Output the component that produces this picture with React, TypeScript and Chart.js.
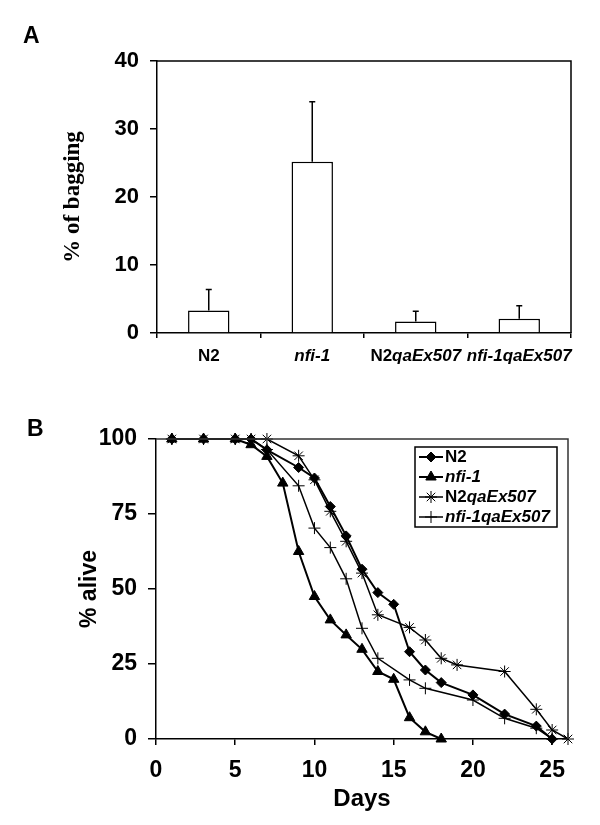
import React, { useEffect, useRef } from 'react';
import { Chart, registerables } from 'chart.js';
import { drawPoint } from 'chart.js/helpers';
Chart.register(...registerables);

// ---------- Panel A data ----------
const strains = ['N2', 'nfi-1', 'N2qaEx507', 'nfi-1qaEx507'];
const baggingPct = [3.3, 25.2, 1.7, 2.1];
const baggingErr = [3.1, 8.8, 1.5, 1.9];
const baggingTickStep = 10;
const baggingMax = 40;

// ---------- Panel B data ----------
const n2Days = [1, 3, 5, 6, 7, 9, 10, 11, 12, 13, 14, 15, 16, 17, 18, 20, 22, 24, 25];
const n2Alive = [100, 100, 100, 100, 96.4, 90.5, 87, 77.5, 67.7, 56.6, 48.8, 44.9, 29.1, 23.0, 18.8, 14.7, 8.3, 4.3, 0];
const nfi1Days = [1, 3, 5, 6, 7, 8, 9, 10, 11, 12, 13, 14, 15, 16, 17, 18];
const nfi1Alive = [100, 100, 100, 98.1, 94.2, 85.3, 62.5, 47.5, 39.7, 34.7, 29.9, 22.5, 19.9, 7.1, 2.4, 0];
const n2ExDays = [1, 3, 5, 6, 7, 9, 10, 11, 12, 13, 14, 16, 17, 18, 19, 22, 24, 25, 26];
const n2ExAlive = [100, 100, 100, 100, 100, 94.4, 86.4, 75.9, 65.9, 55.3, 41.4, 37.2, 33.0, 26.9, 24.7, 22.5, 9.9, 3.0, 0];
const nfi1ExDays = [1, 3, 5, 6, 7, 9, 10, 11, 12, 13, 14, 16, 17, 20, 22, 24, 25];
const nfi1ExAlive = [100, 100, 100, 100, 96.5, 84.4, 70.3, 63.8, 53.4, 36.9, 26.9, 19.7, 16.9, 13.0, 6.9, 3.6, 0];
const seriesLabels = ['N2', 'nfi-1', 'N2qaEx507', 'nfi-1qaEx507'];
const daysMax = 26;
const daysStep = 5;
const aliveStep = 25;

const SANS = '"Liberation Sans", Arial, sans-serif';
const SERIF = '"Liberation Serif", "Times New Roman", serif';

function segments(label: string) {
  return label
    .split(/(nfi-1|qaEx507)/)
    .filter(Boolean)
    .map((t) => ({ t, it: /^(nfi-1|qaEx507)$/.test(t) }));
}

function drawMixed(ctx: CanvasRenderingContext2D, label: string, x: number, cy: number, size: number, align: 'center' | 'left') {
  const segs = segments(label);
  const fontOf = (it: boolean) => `${it ? 'italic ' : ''}bold ${size}px ${SANS}`;
  let total = 0;
  segs.forEach((s) => {
    ctx.font = fontOf(s.it);
    total += ctx.measureText(s.t).width;
  });
  let cx = align === 'center' ? x - total / 2 : x;
  ctx.textBaseline = 'middle';
  ctx.textAlign = 'left';
  ctx.fillStyle = '#000';
  segs.forEach((s) => {
    ctx.font = fontOf(s.it);
    ctx.fillText(s.t, cx, cy);
    cx += ctx.measureText(s.t).width;
  });
}

const barExtras = {
  id: 'barExtras',
  afterDatasetsDraw(chart: any) {
    const { ctx, chartArea: a, scales } = chart;
    const meta = chart.getDatasetMeta(0);
    ctx.save();
    ctx.strokeStyle = '#000';
    ctx.lineWidth = 1.5;
    meta.data.forEach((bar: any, i: number) => {
      const top = scales.y.getPixelForValue(baggingPct[i] + baggingErr[i]);
      ctx.beginPath();
      ctx.moveTo(bar.x, bar.y);
      ctx.lineTo(bar.x, top);
      ctx.moveTo(bar.x - 3, top);
      ctx.lineTo(bar.x + 3, top);
      ctx.stroke();
    });
    ctx.beginPath();
    ctx.moveTo(a.left, a.top);
    ctx.lineTo(a.right, a.top);
    ctx.lineTo(a.right, a.bottom);
    ctx.stroke();
    strains.forEach((s, i) => {
      drawMixed(ctx, s, scales.x.getPixelForValue(i), a.bottom + 23, 17, 'center');
    });
    ctx.font = `bold 23px ${SANS}`;
    ctx.textBaseline = 'alphabetic';
    ctx.textAlign = 'left';
    ctx.fillStyle = '#000';
    ctx.fillText('A', 23, 43);
    ctx.restore();
  },
};

const lineExtras = {
  id: 'lineExtras',
  afterDraw(chart: any) {
    const { ctx, chartArea: a } = chart;
    ctx.save();
    ctx.strokeStyle = '#333';
    ctx.lineWidth = 1.5;
    ctx.beginPath();
    ctx.moveTo(a.left, a.top);
    ctx.lineTo(a.right, a.top);
    ctx.lineTo(a.right, a.bottom);
    ctx.stroke();
    // legend box
    const bx = a.right - 153;
    const by = a.top + 8;
    ctx.strokeStyle = '#000';
    ctx.lineWidth = 1.5;
    ctx.strokeRect(bx, by, 142, 80);
    chart.data.datasets.forEach((ds: any, i: number) => {
      const cy = by + 10 + 20 * i;
      ctx.strokeStyle = '#000';
      ctx.fillStyle = '#000';
      ctx.lineWidth = ds.borderWidth;
      ctx.beginPath();
      ctx.moveTo(bx + 4, cy);
      ctx.lineTo(bx + 28, cy);
      ctx.stroke();
      ctx.lineWidth = ds.pointBorderWidth;
      drawPoint(ctx, { pointStyle: ds.pointStyle, radius: ds.pointRadius, rotation: 0, borderWidth: ds.pointBorderWidth }, bx + 16, cy);
      drawMixed(ctx, ds.label, bx + 30, cy, 17, 'left');
    });
    ctx.font = `bold 23px ${SANS}`;
    ctx.textBaseline = 'alphabetic';
    ctx.textAlign = 'left';
    ctx.fillStyle = '#000';
    ctx.fillText('B', 27, 36);
    ctx.restore();
  },
};

function toPoints(xs: number[], ys: number[]) {
  return xs.map((x, i) => ({ x, y: ys[i] }));
}

export default function App() {
  const refA = useRef<HTMLCanvasElement>(null);
  const refB = useRef<HTMLCanvasElement>(null);

  useEffect(() => {
    const axisCommon = {
      border: { display: true, color: '#000', width: 1.5 },
    };
    const chartA = new Chart(refA.current!, {
      type: 'bar',
      data: {
        labels: strains,
        datasets: [
          {
            data: baggingPct,
            backgroundColor: '#fff',
            borderColor: '#000',
            borderWidth: 1.5,
            barPercentage: 0.4,
            categoryPercentage: 1,
          },
        ],
      },
      options: {
        responsive: false,
        animation: false,
        devicePixelRatio: 1,
        layout: { padding: { left: 0, right: 29, top: 61, bottom: 0 } },
        plugins: { legend: { display: false }, tooltip: { enabled: false } },
        scales: {
          x: {
            ...axisCommon,
            grid: { display: true, drawOnChartArea: false, tickLength: 5, color: '#000', lineWidth: 1.5, offset: true },
            ticks: { display: false },
            afterFit: (s: any) => {
              s.height = 67;
            },
          },
          y: {
            ...axisCommon,
            min: 0,
            max: baggingMax,
            grid: { drawOnChartArea: false, tickLength: 7, color: '#000', lineWidth: 1.5 },
            ticks: { stepSize: baggingTickStep, padding: 11, color: '#000', font: { family: SANS, size: 22, weight: 'bold' } },
            title: {
              display: true,
              text: '% of bagging',
              color: '#000',
              font: { family: SERIF, size: 23, weight: 'bold' },
              padding: { top: 59, bottom: 0 },
            },
            afterFit: (s: any) => {
              s.width = 157;
            },
          },
        },
      } as any,
      plugins: [barExtras],
    });

    const mk = (label: string, pts: any, style: string, radius: number, bw: number, pbw: number) => ({
      label,
      data: pts,
      borderColor: '#000',
      backgroundColor: '#000',
      borderWidth: bw,
      pointStyle: style,
      pointRadius: radius,
      pointBorderWidth: pbw,
      pointBackgroundColor: '#000',
      pointBorderColor: '#000',
      tension: 0,
      clip: false,
    });

    const chartB = new Chart(refB.current!, {
      type: 'line',
      data: {
        datasets: [
          mk(seriesLabels[0], toPoints(n2Days, n2Alive), 'rectRot', 5, 2, 1),
          mk(seriesLabels[1], toPoints(nfi1Days, nfi1Alive), 'triangle', 6, 2, 1),
          mk(seriesLabels[2], toPoints(n2ExDays, n2ExAlive), 'star', 6, 1.5, 1),
          mk(seriesLabels[3], toPoints(nfi1ExDays, nfi1ExAlive), 'cross', 6, 1.5, 1),
        ],
      },
      options: {
        responsive: false,
        animation: false,
        devicePixelRatio: 1,
        layout: { padding: { left: 0, right: 32, top: 39, bottom: 0 } },
        plugins: { legend: { display: false }, tooltip: { enabled: false } },
        scales: {
          x: {
            ...axisCommon,
            type: 'linear',
            min: 0,
            max: daysMax,
            grid: { drawOnChartArea: false, tickLength: 6, color: '#000', lineWidth: 1.5 },
            ticks: { stepSize: daysStep, includeBounds: false, padding: 12, color: '#000', font: { family: SANS, size: 23, weight: 'bold' } },
            title: {
              display: true,
              text: 'Days',
              color: '#000',
              font: { family: SANS, size: 24, weight: 'bold' },
              padding: { top: 0, bottom: 11 },
            },
            afterFit: (s: any) => {
              s.height = 86;
            },
          },
          y: {
            ...axisCommon,
            min: 0,
            max: 100,
            grid: { drawOnChartArea: false, tickLength: 8, color: '#000', lineWidth: 1.5 },
            ticks: { stepSize: aliveStep, padding: 11, color: '#000', font: { family: SANS, size: 23, weight: 'bold' } },
            title: {
              display: true,
              text: '% alive',
              color: '#000',
              font: { family: SANS, size: 23, weight: 'bold' },
              padding: { top: 76, bottom: 0 },
            },
            afterFit: (s: any) => {
              s.width = 156;
            },
          },
        },
      } as any,
      plugins: [lineExtras],
    });

    return () => {
      chartA.destroy();
      chartB.destroy();
    };
  }, []);

  return (
    <div style={{ position: 'absolute', left: 0, top: 0, width: 600, height: 825, background: '#fff' }}>
      <canvas ref={refA} width={600} height={400} style={{ position: 'absolute', left: 0, top: 0, display: 'block' }} />
      <canvas ref={refB} width={600} height={425} style={{ position: 'absolute', left: 0, top: 400, display: 'block' }} />
    </div>
  );
}
